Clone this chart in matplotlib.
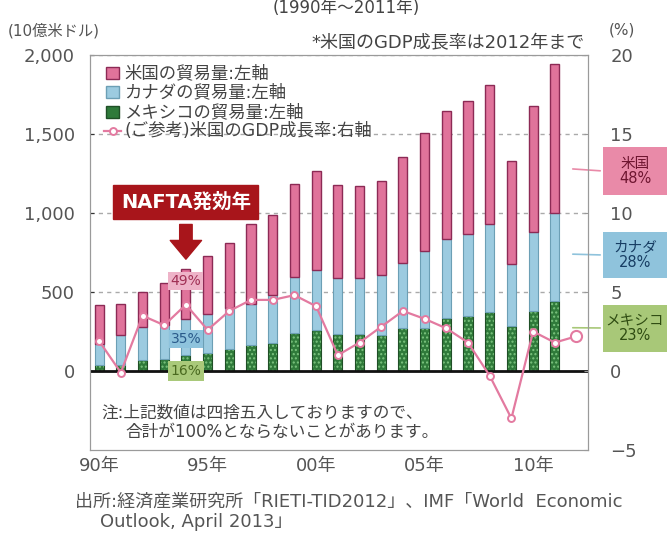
import matplotlib
matplotlib.use("Agg")
import matplotlib.pyplot as plt
from matplotlib.patches import Rectangle
from matplotlib.lines import Line2D

plt.rcParams['font.family'] = ['DejaVu Sans', 'Noto Sans CJK JP']

# data
years = list(range(1990, 2012))
mexico = [40, 36, 68, 78, 104, 114, 141, 167, 175, 239, 260, 233, 233, 225, 270, 270, 335, 350, 371, 286, 382, 445]
canada = [133, 190, 210, 212, 226, 249, 259, 259, 305, 359, 380, 355, 355, 384, 413, 487, 503, 520, 562, 393, 498, 552]
usa = [243, 200, 222, 267, 318, 363, 410, 507, 505, 588, 628, 592, 581, 596, 670, 749, 810, 838, 875, 647, 796, 944]

gdp_years = list(range(1990, 2013))
gdp = [1.9, -0.1, 3.5, 2.9, 4.2, 2.6, 3.8, 4.5, 4.5, 4.8, 4.1, 1.0, 1.8, 2.8, 3.8, 3.3,
       2.7, 1.8, -0.3, -3.0, 2.5, 1.8, 2.2]

xtick_years = [1990, 1995, 2000, 2005, 2010]
xtick_labels = ['90年', '95年', '00年', '05年', '10年']
left_ticks = [0, 500, 1000, 1500, 2000]
right_ticks = [-5, 0, 5, 10, 15, 20]

legend_labels = ['米国の貿易量:左軸', 'カナダの貿易量:左軸', 'メキシコの貿易量:左軸', '(ご参考)米国のGDP成長率:右軸']
share_labels = ['米国\n48%', 'カナダ\n28%', 'メキシコ\n23%']
nafta_shares = ['49%', '35%', '16%']

US_C = '#e0739b'
CA_C = '#9ccbe0'
MX_C = '#2f7a3a'
LINE_C = '#e37aa0'

W, H = 667, 537


def fpos(x, y):
    return x / W, 1 - y / H


fig = plt.figure(figsize=(W / 100, H / 100), dpi=100)
ax = fig.add_axes([90 / W, 1 - 450 / H, (588 - 90) / W, (450 - 55) / H])
ax2 = ax.twinx()

bw = 0.42
canada_bottom = mexico
usa_bottom = [m + c for m, c in zip(mexico, canada)]
ax.bar(years, mexico, width=bw, color=MX_C, edgecolor='#7cc47f', hatch='....', linewidth=0, zorder=2)
ax.bar(years, mexico, width=bw, fill=False, edgecolor='#1f4f26', linewidth=0.8, zorder=2)
ax.bar(years, canada, width=bw, bottom=canada_bottom, color=CA_C, edgecolor='#6c9fb5', linewidth=0.8, zorder=2)
ax.bar(years, usa, width=bw, bottom=usa_bottom, color=US_C, edgecolor='#8c2a55', linewidth=1.0, zorder=2)
ax.axhline(0, color='#111', linewidth=2, zorder=3)

ax.set_xlim(1989.58, 2012.53)
ax.set_ylim(-500, 2000)
ax2.set_ylim(-5, 20)

ax.set_yticks(left_ticks)
ax.set_yticklabels([f'{v:,}' for v in left_ticks])
ax2.set_yticks(right_ticks)
ax.set_xticks(xtick_years)
ax.set_xticklabels(xtick_labels)

for a in (ax, ax2):
    for s in a.spines.values():
        s.set_color('#9a9a9a')
        s.set_linewidth(0.8)
ax.yaxis.grid(True, linestyle=(0, (3, 3)), color='#aaaaaa', linewidth=1)
ax.set_axisbelow(True)
ax.tick_params(axis='y', direction='in', length=3, color='#333', labelsize=13,
               labelcolor='#555', pad=11)
ax.tick_params(axis='x', length=0, labelsize=13, labelcolor='#555', pad=5)
ax2.tick_params(axis='y', direction='in', length=3, color='#999', labelsize=13,
                labelcolor='#555', pad=16)

ax2.plot(gdp_years, gdp, color=LINE_C, linewidth=1.6, marker='o', markersize=5,
         markerfacecolor='white', markeredgecolor=LINE_C, markeredgewidth=1.4, zorder=4)
ax2.plot(gdp_years[-1:], gdp[-1:], 'o', markersize=8, markerfacecolor='white',
         markeredgecolor=LINE_C, markeredgewidth=1.5, zorder=5)

# hand-made legend, rows at fixed pixel heights
rows = [73, 92, 112, 131]
swatches = [(US_C, '#8c2a55'), (CA_C, '#6c9fb5'), (MX_C, '#1f4f26')]
for (fc, ec), ypx in zip(swatches, rows[:3]):
    fig.add_artist(Rectangle(fpos(106, ypx + 6), 13 / W, 12 / H, transform=fig.transFigure,
                             facecolor=fc, edgecolor=ec, linewidth=1, zorder=7))
fig.add_artist(Line2D([104 / W, 121 / W], [fpos(0, rows[3])[1]] * 2, transform=fig.transFigure,
                      color=LINE_C, linewidth=1.6, zorder=7))
fig.add_artist(Line2D([112.5 / W], [fpos(0, rows[3])[1]], transform=fig.transFigure, marker='o',
                      markersize=5, markerfacecolor='white', markeredgecolor=LINE_C,
                      markeredgewidth=1.4, zorder=8))
for lab, ypx in zip(legend_labels, rows):
    fig.text(*fpos(124, ypx), lab, ha='left', va='center', fontsize=12.5, color='#444', zorder=7)

# NAFTA annotation
ax2.text(1994, 1070, 'NAFTA発効年', transform=ax.transData, ha='center', va='center',
         fontsize=14, fontweight='bold', color='white', zorder=6,
         bbox=dict(boxstyle='square,pad=0.38', facecolor='#a8151b', edgecolor='#a8151b'))
ax2.annotate('', xy=(1994, 690), xytext=(1994, 945), xycoords=ax.transData, textcoords=ax.transData,
             arrowprops=dict(arrowstyle='simple,head_length=0.9,head_width=1.5,tail_width=0.6',
                             color='#a8151b', mutation_scale=15), zorder=6)

ax2.text(1994, 567, nafta_shares[0], transform=ax.transData, ha='center', va='center', fontsize=10,
         color='#a03055', zorder=6, bbox=dict(boxstyle='square,pad=0.15', facecolor='#eeb3c8', edgecolor='none'))
ax2.text(1994, 204, nafta_shares[1], transform=ax.transData, ha='center', va='center', fontsize=10,
         color='#2a5a8a', zorder=6, bbox=dict(boxstyle='square,pad=0.15', facecolor='#8ec3dd', edgecolor='none'))
ax2.text(1994, 0, nafta_shares[2], transform=ax.transData, ha='center', va='center', fontsize=10,
         color='#4a6a20', zorder=6, bbox=dict(boxstyle='square,pad=0.2', facecolor='#a9c97a', edgecolor='none'))

# share boxes at the right (pixel extents top, bottom, line y, left value where line starts)
box_specs = [(share_labels[0], 147, 195, 171, 1280, '#e98aa8', '#6e1530'),
             (share_labels[1], 232, 278, 255, 740, '#8fc3dc', '#173d63'),
             (share_labels[2], 305, 352, 328, 274, '#a8c878', '#2f4c12')]
for text, top, bot, ypx, val, fc, tc in box_specs:
    fig.add_artist(Rectangle(fpos(603, bot), 64 / W, (bot - top) / H, transform=fig.transFigure,
                             facecolor=fc, edgecolor='none', zorder=1))
    fig.text(*fpos(635, (top + bot) / 2), text, ha='center', va='center', fontsize=10.5, color=tc,
             linespacing=1.0, zorder=5)
    ax.annotate('', xy=fpos(603, ypx), xycoords='figure fraction', xytext=(2011.7, val),
                textcoords='data', arrowprops=dict(arrowstyle='-', color=fc, linewidth=1.2),
                annotation_clip=False)

# texts
fig.text(*fpos(346, 8), '(1990年〜2011年)', ha='center', va='center', fontsize=12, color='#444')
fig.text(*fpos(8, 31), '(10億米ドル)', ha='left', va='center', fontsize=11, color='#555')
fig.text(*fpos(622, 30), '(%)', ha='center', va='center', fontsize=11, color='#555')
fig.text(*fpos(585, 43), '*米国のGDP成長率は2012年まで', ha='right', va='center', fontsize=13, color='#444')
fig.text(*fpos(101, 413), '注:上記数値は四捨五入しておりますので、', ha='left', va='center', fontsize=12, color='#444')
fig.text(*fpos(125, 432), '合計が100%とならないことがあります。', ha='left', va='center', fontsize=12, color='#444')
fig.text(*fpos(75, 502), '出所:経済産業研究所「RIETI-TID2012」、IMF「World  Economic', ha='left', va='center',
         fontsize=13, color='#555')
fig.text(*fpos(100, 522), 'Outlook, April 2013」', ha='left', va='center', fontsize=13, color='#555')

fig.savefig('out.png', dpi=100)
